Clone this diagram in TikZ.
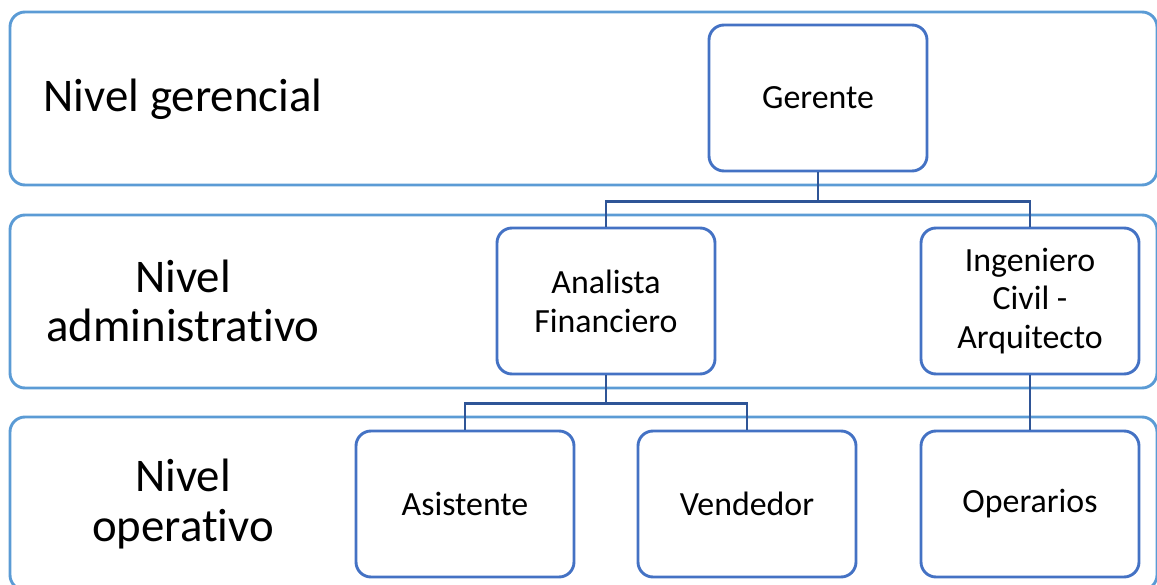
\documentclass[tikz,border=0pt]{standalone}
\usepackage{fontspec}
\setmainfont{Carlito}[Ligatures=NoCommon]
\definecolor{bandblue}{RGB}{91,155,213}
\definecolor{boxblue}{RGB}{68,114,196}
\definecolor{linkblue}{RGB}{47,85,151}
\begin{document}
\begin{tikzpicture}[x=1bp,y=-1bp,
  band/.style={draw=bandblue,line width=2.9bp,rounded corners=15bp},
  lvl/.style={align=center,text=black,font=\fontsize{47}{50}\selectfont},
  box/.style={draw=boxblue,line width=2.9bp,rounded corners=15bp,fill=white,
    minimum width=218bp,minimum height=146bp,align=center,inner sep=0pt,
    font=\fontsize{34}{39}\selectfont},
  link/.style={draw=linkblue,line width=2.9bp}]
\useasboundingbox (0,0) rectangle (1157,585);
% level bands
\draw[band] (10,12) rectangle (1157,185);
\draw[band] (10,215) rectangle (1157,388);
\draw[band] (10,417) rectangle (1157,590);
% level names
\node[lvl] (l1) at (183,99) {Nivel gerencial};
\node[lvl] (l2) at (183,301) {Nivel\\administrativo};
\node[lvl] (l3) at (183,504) {Nivel\\operativo};
% positions
\node[box] (ger) at (818,98) {Gerente};
\node[box] (ana) at (606,301) {Analista\\Financiero};
\node[box] (ing) at (1030,301) {Ingeniero\\Civil -\\Arquitecto};
\node[box] (asi) at (465,504) {Asistente};
\node[box] (ven) at (747,504) {Vendedor};
\node[box] (ope) at (1030,504) {Operarios};
% reporting lines
\draw[link] (ger.south) -- ++(0,29) -| (ana.north);
\draw[link] (ger.south) -- ++(0,29) -| (ing.north);
\draw[link] (ana.south) -- ++(0,28) -| (asi.north);
\draw[link] (ana.south) -- ++(0,28) -| (ven.north);
\draw[link] (ing.south) -- (ope.north);
\end{tikzpicture}
\end{document}
